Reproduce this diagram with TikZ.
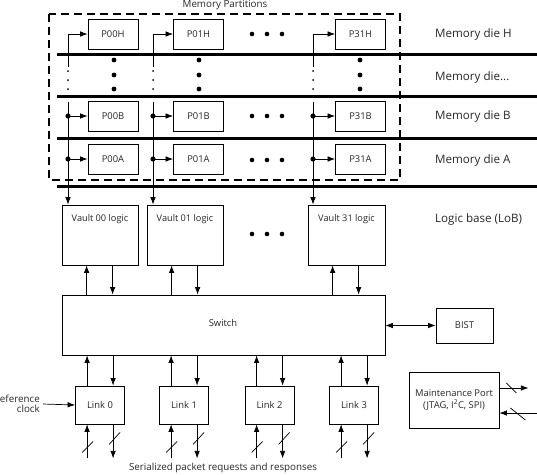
\documentclass[tikz,border=0pt]{standalone}
\usepackage{fontspec}
\setmainfont{Open Sans}
\usetikzlibrary{arrows.meta}
\begin{document}
\begin{tikzpicture}[x=1pt,y=-1pt,
  box/.style={draw, line width=0.8pt, inner sep=0pt, font=\fontsize{9.4}{11}\selectfont, text=black!85},
  pbox/.style={box, minimum width=50pt, minimum height=30pt},
  vbox/.style={box, minimum width=76pt, minimum height=60pt},
  lkbox/.style={box, minimum width=49pt, minimum height=38pt},
  lbl/.style={font=\fontsize{11.6}{13}\selectfont, text=black!85, inner sep=0pt},
  sml/.style={font=\fontsize{9.8}{11}\selectfont, text=black!85, inner sep=0pt},
  arr/.style={line width=0.7pt, -{Latex[length=7.5pt,width=5.5pt]}},
  dbl/.style={line width=0.7pt, {Latex[length=7.5pt,width=5.5pt]}-{Latex[length=7.5pt,width=5.5pt]}},
  bus/.style={line width=3pt},
  slash/.style={line width=0.7pt},
  ]
\useasboundingbox (0,0) rectangle (537,474);

% dashed partition box
\draw[line width=2.5pt, dash pattern=on 8pt off 5pt] (49,14) rectangle (400,180);
\node[sml] (mp) at (225,5) {Memory Partitions};

% buses
\foreach \y in {54,96,138,186} \draw[bus] (57,\y) -- (537,\y);

% partition boxes
\foreach \c/\x in {00/113,01/198.5,31/360.5}{
  \node[pbox] (p\c H) at (\x,34) {P\c H};
  \node[pbox] (p\c B) at (\x,116) {P\c B};
  \node[pbox] (p\c A) at (\x,159) {P\c A};
}

% vault boxes
\node[vbox] (v00) at (100,235) {};
\node[vbox] (v01) at (185,235) {};
\node[vbox, minimum width=77pt] (v31) at (346.5,235) {};
\foreach \c in {00,01,31}
  \node[sml, font=\fontsize{9.2}{10}\selectfont, anchor=north] at ([yshift=-10pt]v\c.north) {Vault \c{} logic};

% column lines
\foreach \c/\x in {00/68,01/153,31/313}{
  \coordinate (h\c) at (\x,67);
  \coordinate (t\c) at (\x,102);
  \draw[arr] (h\c) |- (p\c H.west);
  \foreach \yy in {71,80,89} \fill (\x,\yy) circle (1pt);
  \draw[arr] (t\c) -- (t\c |- v\c.north);
  \fill (t\c |- p\c B.west) circle (2.6pt);
  \fill (t\c |- p\c A.west) circle (2.6pt);
  \draw[arr] (t\c |- p\c B.west) -- (p\c B.west);
  \draw[arr] (t\c |- p\c A.west) -- (p\c A.west);
}
% die dots
\foreach \x in {114,199,360} \foreach \yy in {60,75,89} \fill (\x,\yy) circle (2.4pt);
% ellipsis dots
\foreach \yy in {34,116,160,234} \foreach \x in {252,267,282} \fill (\x,\yy) circle (2.3pt);

% labels
\node[lbl, anchor=west] (dH) at (435,34) {Memory die H};
\node[lbl, anchor=west] (dX) at (435,77) {Memory die...};
\node[lbl, anchor=west] (dB) at (435,116) {Memory die B};
\node[lbl, anchor=west] (dA) at (435,160) {Memory die A};
\node[lbl, anchor=west] (lob) at (435,219) {Logic base (LoB)};

% switch
\node[box, minimum width=323pt, minimum height=60pt] (sw) at (223.5,325) {};
\node[box, draw=none] at (223,323) {Switch};

% vault <-> switch
\foreach \c in {00,01,31}{
  \coordinate (vu\c) at ([xshift=25pt]v\c.south west);
  \coordinate (vd\c) at ([xshift=51pt]v\c.south west);
  \draw[arr] (vu\c |- sw.north) -- (vu\c);
  \draw[arr] (vd\c) -- (vd\c |- sw.north);
}

% BIST
\node[box, minimum width=57pt, minimum height=35pt] (bist) at (464.5,325.5) {BIST};
\draw[dbl] (sw.east |- bist.west) -- (bist.west);

% links
\foreach \i/\x in {0/100,1/184,2/269.5,3/354}{
  \node[lkbox] (link\i) at (\x,405) {Link \i};
  \coordinate (lu\i) at ([xshift=12pt]link\i.north west);
  \coordinate (ld\i) at ([xshift=38pt]link\i.north west);
  \draw[arr] (lu\i) -- (lu\i |- sw.south);
  \draw[arr] (ld\i |- sw.south) -- (ld\i);
  \coordinate (bu\i) at ([xshift=12pt]link\i.south west);
  \coordinate (bd\i) at ([xshift=38pt]link\i.south west);
  \coordinate (eu\i) at ([yshift=-34pt]bu\i);
  \coordinate (ed\i) at ([yshift=-34pt]bd\i);
  \draw[arr] (eu\i) -- (bu\i);
  \draw[arr] (bd\i) -- (ed\i);
  \draw[slash] ([shift={(-5,28)}]bu\i) -- ++(11,-11);
  \draw[slash] ([shift={(-4,20)}]bd\i) -- ++(11,-12);
}

% reference clock
\node[sml, font=\fontsize{9.8}{10.5}\selectfont, align=right, anchor=east] (rc) at (40,404) {Reference\\clock};
\coordinate (rcs) at (43,404);
\draw[arr] (rcs) -- (link0.west);

\node[sml] (ser) at (223,468) {Serialized packet requests and responses};

% maintenance port
\node[box, minimum width=90pt, minimum height=56pt, align=center, font=\fontsize{9.4}{12}\selectfont] (mport) at (454,400) {Maintenance Port\\(JTAG, I\textsuperscript{2}C, SPI)};
\coordinate (mo) at ([yshift=12pt]mport.east);
\coordinate (mi) at ([yshift=-13pt]mport.east);
\coordinate (moe) at ([xshift=29pt]mo);
\coordinate (mie) at ([xshift=38pt]mi);
\draw[arr] (mo) -- (moe);
\draw[arr] (mie) -- (mi);
\draw[slash] ([shift={(7,-5)}]mo) -- ++(10,10);
\draw[slash] ([shift={(11,-5)}]mi) -- ++(15,12);
\end{tikzpicture}
\end{document}
